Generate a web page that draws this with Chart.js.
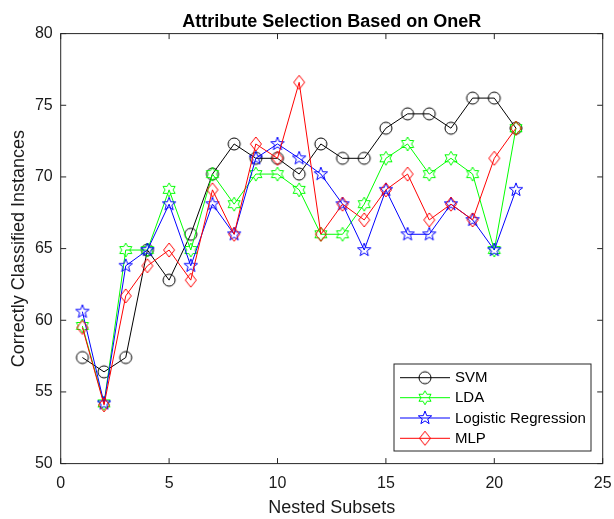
<!DOCTYPE html>
<html>
<head>
<meta charset="utf-8">
<script src="https://cdn.jsdelivr.net/npm/chart.js@4/dist/chart.umd.min.js"></script>
<style>
  html, body { margin: 0; padding: 0; background: #fff; }
  #c { display: block; }
</style>
</head>
<body>
<canvas id="c" width="614" height="519"></canvas>
<script>
// ---- Data ----
const subsets = [1, 2, 3, 4, 5, 6, 7, 8, 9, 10, 11, 12, 13, 14, 15, 16, 17, 18, 19, 20, 21];
const svm    = [57.4, 56.4, 57.4, 64.9, 62.8, 66.0, 70.2, 72.3, 71.3, 71.3, 70.2, 72.3, 71.3, 71.3, 73.4, 74.4, 74.4, 73.4, 75.5, 75.5, 73.4];
const lda    = [59.6, 54.2, 64.9, 64.9, 69.1, 64.9, 70.2, 68.1, 70.2, 70.2, 69.1, 66.0, 66.0, 68.1, 71.3, 72.3, 70.2, 71.3, 70.2, 64.9, 73.4];
const logreg = [60.6, 54.2, 63.8, 64.9, 68.1, 63.8, 68.1, 66.0, 71.3, 72.3, 71.3, 70.2, 68.1, 64.9, 69.1, 66.0, 66.0, 68.1, 67.0, 64.9, 69.1];
const mlp    = [59.5, 54.1, 61.7, 63.8, 64.9, 62.8, 69.1, 66.0, 72.3, 71.3, 76.6, 66.0, 68.1, 67.0, 69.1, 70.2, 67.0, 68.1, 67.0, 71.3, 73.4];
const seriesNames = ['SVM', 'LDA', 'Logistic Regression', 'MLP'];
const xTicks = [0, 5, 10, 15, 20, 25];
const yTicks = [50, 55, 60, 65, 70, 75, 80];
const titleText = 'Attribute Selection Based on OneR';
const xLabel = 'Nested Subsets';
const yLabel = 'Correctly Classified Instances';

// ---- Marker canvases ----
function makeMarker(type, color) {
  const S = 18;
  const cv = document.createElement('canvas');
  cv.width = S; cv.height = S;
  const g = cv.getContext('2d');
  const c = S / 2;
  g.strokeStyle = color;
  g.lineWidth = 1;
  g.beginPath();
  if (type === 'circle') {
    g.arc(c, c, 6, 0, Math.PI * 2);
  } else if (type === 'diamond') {
    g.moveTo(c, c - 7); g.lineTo(c + 5.5, c); g.lineTo(c, c + 7); g.lineTo(c - 5.5, c); g.closePath();
  } else if (type === 'pentagram' || type === 'hexagram') {
    const n = type === 'pentagram' ? 5 : 6;
    const R = 7;
    const r = type === 'pentagram' ? 2.9 : 4.0;
    for (let i = 0; i < 2 * n; i++) {
      const a = -Math.PI / 2 + i * Math.PI / n;
      const rr = i % 2 === 0 ? R : r;
      const px = c + rr * Math.cos(a), py = c + rr * Math.sin(a);
      if (i === 0) g.moveTo(px, py); else g.lineTo(px, py);
    }
    g.closePath();
  }
  g.stroke();
  return cv;
}

const colors = ['#000000', '#00ff00', '#0000ff', '#ff0000'];
const markers = [
  makeMarker('circle', colors[0]),
  makeMarker('hexagram', colors[1]),
  makeMarker('pentagram', colors[2]),
  makeMarker('diamond', colors[3])
];
const allSeries = [svm, lda, logreg, mlp];

const datasets = allSeries.map((vals, i) => ({
  label: seriesNames[i],
  data: subsets.map((x, j) => ({ x: x, y: vals[j] })),
  borderColor: colors[i],
  backgroundColor: colors[i],
  borderWidth: 1,
  pointStyle: markers[i],
  pointRadius: 6,
  tension: 0,
  order: 4 - i
}));

const AXIS = '#262626';
const FONT = '"Liberation Sans", Arial, sans-serif';

const framePlugin = {
  id: 'frame',
  afterDraw(chart) {
    const ctx = chart.ctx;
    const a = chart.chartArea;
    const xs = chart.scales.x, ys = chart.scales.y;
    ctx.save();
    ctx.strokeStyle = AXIS;
    ctx.lineWidth = 1;
    ctx.strokeRect(a.left, a.top, a.right - a.left, a.bottom - a.top);
    const tl = 5.5;
    ctx.beginPath();
    xTicks.forEach(v => {
      const px = xs.getPixelForValue(v);
      ctx.moveTo(px, a.bottom); ctx.lineTo(px, a.bottom - tl);
      ctx.moveTo(px, a.top); ctx.lineTo(px, a.top + tl);
    });
    yTicks.forEach(v => {
      const py = ys.getPixelForValue(v);
      ctx.moveTo(a.left, py); ctx.lineTo(a.left + tl, py);
      ctx.moveTo(a.right, py); ctx.lineTo(a.right - tl, py);
    });
    ctx.stroke();

    // Title
    ctx.fillStyle = '#000';
    ctx.textAlign = 'center';
    ctx.textBaseline = 'alphabetic';
    ctx.font = 'bold 18px ' + FONT;
    ctx.fillText(titleText, (a.left + a.right) / 2, 26.5);

    // Axis labels
    ctx.fillStyle = '#1a1a1a';
    ctx.font = '18px ' + FONT;
    ctx.textBaseline = 'middle';
    ctx.fillText(xLabel, (a.left + a.right) / 2, 508);
    ctx.save();
    ctx.translate(19, (a.top + a.bottom) / 2);
    ctx.rotate(-Math.PI / 2);
    ctx.fillText(yLabel, 0, 0);
    ctx.restore();

    // Legend
    const lx = 394, ly = 364, lw = 197, lh = 87;
    ctx.fillStyle = '#fff';
    ctx.fillRect(lx, ly, lw, lh);
    ctx.strokeStyle = AXIS;
    ctx.strokeRect(lx, ly, lw, lh);
    const rows = [377.7, 397.7, 418, 438.3];
    ctx.font = '15px ' + FONT;
    ctx.textAlign = 'left';
    ctx.textBaseline = 'middle';
    chart.data.datasets.forEach((ds, i) => {
      const y = rows[i];
      ctx.strokeStyle = ds.borderColor;
      ctx.lineWidth = 1;
      ctx.beginPath();
      ctx.moveTo(400, y); ctx.lineTo(450, y);
      ctx.stroke();
      const m = ds.pointStyle;
      ctx.drawImage(m, 425 - m.width / 2, y - m.height / 2);
      ctx.fillStyle = '#000';
      ctx.fillText(ds.label, 455, y + 0.5);
    });
    ctx.restore();
  }
};

new Chart(document.getElementById('c'), {
  type: 'line',
  data: { datasets: datasets },
  options: {
    responsive: false,
    devicePixelRatio: 1,
    animation: false,
    events: [],
    layout: { padding: { top: 33.6, right: 11.3, bottom: 0, left: 0 } },
    plugins: { legend: { display: false }, title: { display: false }, tooltip: { enabled: false } },
    scales: {
      x: {
        type: 'linear',
        min: 0, max: 25,
        afterBuildTicks(scale) { scale.ticks = xTicks.map(v => ({ value: v })); },
        afterFit(scale) { scale.height = 519 - 463.6; scale.paddingLeft = 0; scale.paddingRight = 0; },
        grid: { display: false, drawTicks: false },
        border: { display: false },
        ticks: { padding: 10, color: '#1a1a1a', font: { family: FONT, size: 16 }, maxRotation: 0, autoSkip: false }
      },
      y: {
        type: 'linear',
        min: 50, max: 80,
        afterBuildTicks(scale) { scale.ticks = yTicks.map(v => ({ value: v })); },
        afterFit(scale) { scale.width = 60.7; scale.paddingTop = 0; scale.paddingBottom = 0; },
        grid: { display: false, drawTicks: false },
        border: { display: false },
        ticks: { padding: 8, color: '#1a1a1a', font: { family: FONT, size: 16 } }
      }
    }
  },
  plugins: [framePlugin]
});
</script>
</body>
</html>
